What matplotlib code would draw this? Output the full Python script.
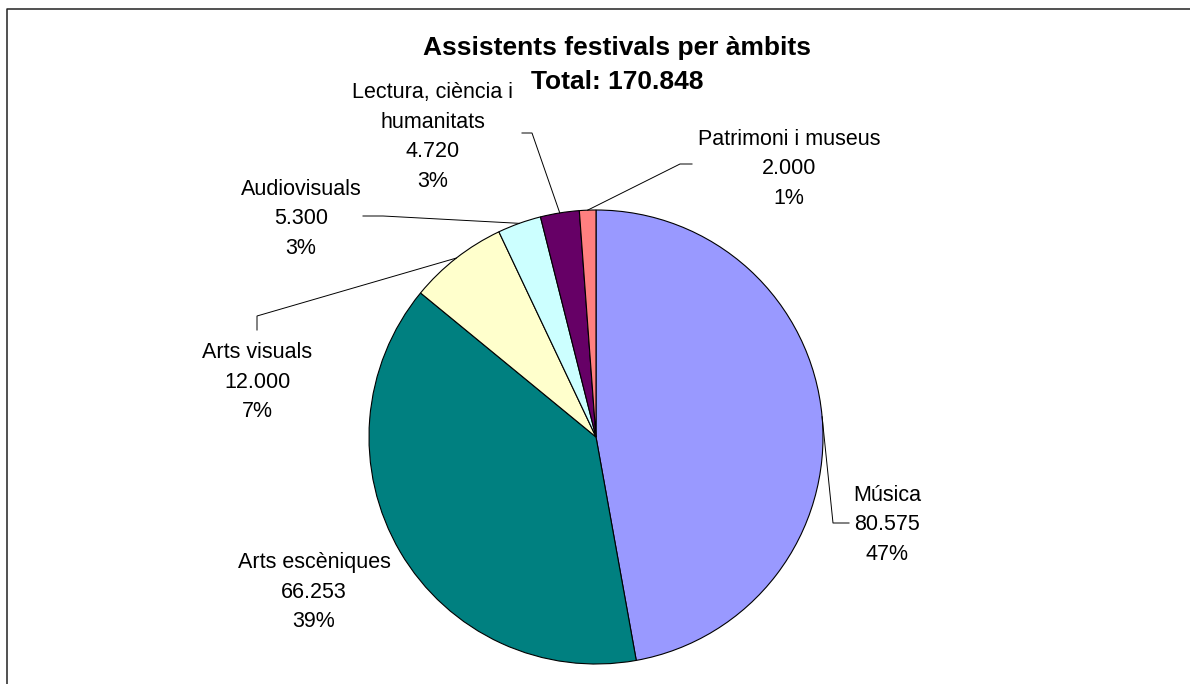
import numpy as np
import matplotlib.pyplot as plt

plt.rcParams['font.family'] = ['Liberation Sans', 'DejaVu Sans']

# data
categories = ["Música", "Arts escèniques", "Arts visuals", "Audiovisuals",
              "Lectura, ciència i\nhumanitats", "Patrimoni i museus"]
attendees = [80575, 66253, 12000, 5300, 4720, 2000]
title = "Assistents festivals per àmbits"
total_text = "Total: 170.848"
colors = ["#9999FF", "#008080", "#FFFFCC", "#CCFFFF", "#660066", "#FF8080"]

# layout, in pixels from the top-left corner
W, H = 1190, 684
center_px = (596, 437)
radius_px = 227
label_pos = [(887, 525), (314, 592), (257, 382), (301, 219), (433, 137), (789, 169)]
# elbow points of the leader lines (label side first), None = no leader
leaders = [
    [(849, 523), (833, 523)],
    None,
    [(257, 330), (257, 316)],
    [(363, 216), (383, 216)],
    [(522, 133), (532, 133)],
    [(692, 164), (680, 164)],
]

fig = plt.figure(figsize=(W / 100, H / 100), dpi=100)
ax = fig.add_axes([0, 0, 1, 1])

wedges, _ = ax.pie(attendees, colors=colors, startangle=90, counterclock=False,
                   center=(center_px[0], H - center_px[1]), radius=radius_px,
                   wedgeprops=dict(edgecolor='black', linewidth=0.8))
ax.set_xlim(0, W)
ax.set_ylim(0, H)
ax.set_aspect('equal')
ax.axis('off')

total = sum(attendees)
for i, (cat, val) in enumerate(zip(categories, attendees)):
    pct = round(100 * val / total)
    num = f"{val:,}".replace(",", ".")
    txt = f"{cat}\n{num}\n{pct}%"
    x, y = label_pos[i]
    ax.text(x, H - y, txt, ha='center', va='center', fontsize=15.5,
            linespacing=1.55, color='black')
    if leaders[i] is not None:
        w = wedges[i]
        mid = np.deg2rad((w.theta1 + w.theta2) / 2)
        ex = center_px[0] + radius_px * np.cos(mid)
        ey = (H - center_px[1]) + radius_px * np.sin(mid)
        xs = [p[0] for p in leaders[i]] + [ex]
        ys = [H - p[1] for p in leaders[i]] + [ey]
        ax.plot(xs, ys, color='black', linewidth=0.7)

ax.text(617, H - 48, title, ha='center', va='center', fontsize=19, fontweight='bold')
ax.text(617, H - 82, total_text, ha='center', va='center', fontsize=19, fontweight='bold')

# chart border (only top and left edges visible)
ax.plot([6.5, 6.5, W + 10], [-10, H - 8.5, H - 8.5], color='#222222',
        linewidth=1.1, clip_on=False)

fig.savefig("out.png", dpi=100)
